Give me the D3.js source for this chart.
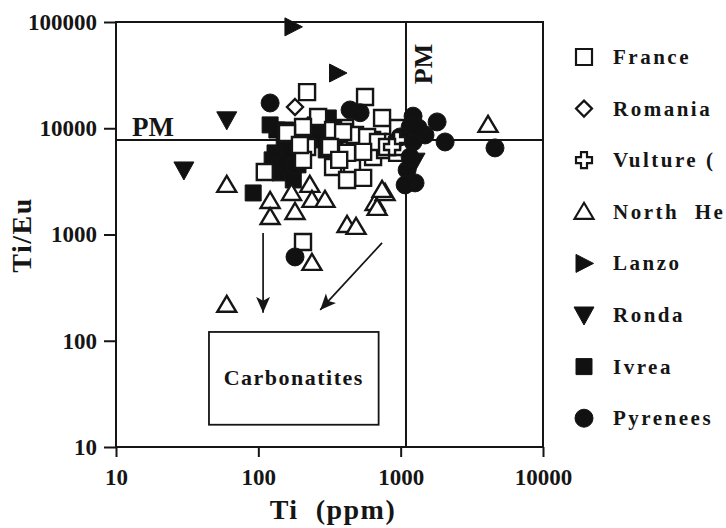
<!DOCTYPE html>
<html><head><meta charset="utf-8">
<script src="https://cdn.jsdelivr.net/npm/d3@7"></script>
<style>
body{margin:0;background:#fff}
svg{display:block}
text{font-family:"Liberation Serif","Times New Roman",serif;font-weight:bold;fill:#151515}
</style>
</head><body>
<svg id="c" width="726" height="528"></svg>
<script>
// ---- data (Ti ppm, Ti/Eu) ----
const xTicks = [10, 100, 1000, 10000];
const yTicks = [10, 100, 1000, 10000, 100000];
const pmTi = 1090, pmTiEu = 7750;

const france = [[220,21900],[562,19700],[740,12500],[263,12770],[206,10280],[159,9030],[407,10060],[478,8650],[630,7760],[220,6670],[206,5040],[335,4320],[455,4230],[545,3410],[640,5370],[777,6250],[111,3880],[196,6960],[335,9630],[394,9230],[581,8280],[693,7430],[885,7430],[944,5860],[545,5990],[420,5860],[319,6670],[802,6670],[991,6670],[420,3260],[206,851],[960,10060],[370,5040]];
const romania = [[181,15850]];
const vulture = [[944,7760],[870,6670]];
const northHess = [[60,2930],[60,218],[121,2070],[121,1460],[181,1630],[171,2460],[230,2930],[238,2120],[294,2120],[420,1230],[486,1180],[661,1980],[777,2460],[683,1780],[740,2630],[238,541],[4110,10750]];
const lanzo = [[175,90000],[360,33100]];
const ronda = [[60,12000],[30,4050],[270,7760],[1075,6250],[1262,4900]];
const ivrea = [[135,9630],[131,5860],[92,2460],[142,3800],[155,5040],[174,3880],[152,6960],[280,10750],[346,7760],[300,6250],[176,3260],[121,10750],[155,9630],[125,5040],[167,6250],[190,4520],[250,10750],[310,12500],[364,8650],[230,7760],[140,4400]];
const pyrenees = [[121,17300],[181,615],[441,14860],[519,14000],[1222,13000],[1803,11470],[2052,7430],[1483,8650],[1222,7430],[1110,4050],[1262,3060],[1165,10280],[991,8280],[1165,5370],[4600,6530],[1330,10060],[1075,2930]];

const legendNames = ["France","Romania","Vulture (","North  He","Lanzo","Ronda","Ivrea","Pyrenees"];
const carbBox = {x0:45, x1:700, y0:16.2, y1:121};
const arrows = [[[108,1035],[108,183]],[[740,834],[272,195]]];

// ---- drawing ----
const FONT = '"Liberation Serif","Times New Roman",serif';
const svg = d3.select("#c");
const x = d3.scaleLog().domain([10,10000]).range([116,543]);
const y = d3.scaleLog().domain([10,100000]).range([447,22]);

const shapes = {
  square: "M-8,-8H8V8H-8Z",
  diamond: "M0,-8L8,0L0,8L-8,0Z",
  cross: "M-3,-8H3V-3H8V3H3V8H-3V3H-8V-3H-3Z",
  triUp: "M0,-9L9.5,7L-9.5,7Z",
  triRight: "M-8,-9L9.5,0L-8,9Z",
  triDown: "M-10,-8L10,-8L0,10Z",
  circle: d3.symbol().type(d3.symbolCircle).size(Math.PI*81)()
};
const series = [
  {data: ivrea, shape:"square", fill:"#111"},
  {data: ronda, shape:"triDown", fill:"#111"},
  {data: france, shape:"square", fill:"#fff"},
  {data: pyrenees, shape:"circle", fill:"#111"},
  {data: northHess, shape:"triUp", fill:"#fff"},
  {data: romania, shape:"diamond", fill:"#fff"},
  {data: vulture, shape:"cross", fill:"#fff"},
  {data: lanzo, shape:"triRight", fill:"#111"}
];
const legendOrder = [
  {shape:"square", fill:"#fff"},{shape:"diamond", fill:"#fff"},{shape:"cross", fill:"#fff"},
  {shape:"triUp", fill:"#fff"},{shape:"triRight", fill:"#111"},{shape:"triDown", fill:"#111"},
  {shape:"square", fill:"#111"},{shape:"circle", fill:"#111"}
];

// frame
svg.append("rect").attr("x",x(10)).attr("y",y(100000))
  .attr("width",x(10000)-x(10)).attr("height",y(10)-y(100000))
  .attr("fill","none").attr("stroke","#151515").attr("stroke-width",2);

// axes
const yAxis = d3.axisLeft(y).tickValues(yTicks).tickFormat(d3.format("d")).tickSize(12).tickPadding(7);
const gy = svg.append("g").attr("transform",`translate(${x(10)},0)`).call(yAxis);
const xAxis = d3.axisBottom(x).tickValues(xTicks).tickFormat(d3.format("d")).tickSize(10).tickPadding(12);
const gx = svg.append("g").attr("transform",`translate(0,${y(10)})`).call(xAxis);
[gx,gy].forEach(g=>{
  g.attr("font-family",FONT);
  g.select(".domain").remove();
  g.selectAll(".tick line").attr("stroke","#151515").attr("stroke-width",2);
  g.selectAll(".tick text").attr("font-size",23).attr("fill","#151515")
    .attr("font-family",FONT).attr("font-weight","bold");
});

// PM lines
svg.append("line").attr("x1",x(10)).attr("x2",x(10000)).attr("y1",y(pmTiEu)).attr("y2",y(pmTiEu))
  .attr("stroke","#151515").attr("stroke-width",2);
svg.append("line").attr("x1",x(pmTi)).attr("x2",x(pmTi)).attr("y1",y(100000)).attr("y2",y(10))
  .attr("stroke","#151515").attr("stroke-width",2);
svg.append("text").attr("x",x(10)+16).attr("y",y(pmTiEu)-4).attr("font-size",27).attr("font-family",FONT).text("PM");
svg.append("text").attr("transform",`translate(${x(pmTi)+26},${64}) rotate(-90)`)
  .attr("text-anchor","middle").attr("font-size",26).attr("font-family",FONT).text("PM");

// carbonatites box
svg.append("rect").attr("x",x(carbBox.x0)).attr("y",y(carbBox.y1))
  .attr("width",x(carbBox.x1)-x(carbBox.x0)).attr("height",y(carbBox.y0)-y(carbBox.y1))
  .attr("fill","none").attr("stroke","#151515").attr("stroke-width",1.8);
svg.append("text").attr("x",(x(carbBox.x0)+x(carbBox.x1))/2).attr("y",(y(carbBox.y0)+y(carbBox.y1))/2+7)
  .attr("text-anchor","middle").attr("font-size",22).attr("letter-spacing",1.5)
  .attr("font-family",FONT).text("Carbonatites");

// arrows
svg.append("defs").append("marker").attr("id","ah").attr("markerUnits","userSpaceOnUse")
  .attr("markerWidth",20).attr("markerHeight",16).attr("refX",16).attr("refY",7)
  .attr("orient","auto").append("path").attr("d","M0,0L16,7L0,14L4,7Z").attr("fill","#151515");
svg.selectAll(".arr").data(arrows).join("line").attr("class","arr")
  .attr("x1",d=>x(d[0][0])).attr("y1",d=>y(d[0][1]))
  .attr("x2",d=>x(d[1][0])).attr("y2",d=>y(d[1][1]))
  .attr("stroke","#151515").attr("stroke-width",1.7).attr("marker-end","url(#ah)");

// points
series.forEach(s=>{
  svg.append("g").selectAll("path").data(s.data).join("path")
    .attr("transform",d=>`translate(${x(d[0])},${y(d[1])})`)
    .attr("d",shapes[s.shape]).attr("fill",s.fill)
    .attr("stroke","#151515").attr("stroke-width",s.fill==="#fff"?2.4:1);
});

// axis titles
svg.append("text").attr("transform","translate(31,235) rotate(-90)").attr("text-anchor","middle")
  .attr("font-size",28).attr("letter-spacing",1.5).attr("font-family",FONT).text("Ti/Eu");
svg.append("text").attr("x",333).attr("y",519).attr("text-anchor","middle")
  .attr("font-size",28).attr("letter-spacing",1.5).attr("font-family",FONT)
  .style("white-space","pre").text("Ti  (ppm)");

// legend
const lg = svg.append("g");
const rowY = i => 57 + i*51.6;
lg.selectAll("path").data(legendOrder).join("path")
  .attr("transform",(d,i)=>`translate(584,${rowY(i)})`)
  .attr("d",d=>shapes[d.shape]).attr("fill",d=>d.fill)
  .attr("stroke","#151515").attr("stroke-width",d=>d.fill==="#fff"?2.2:1);
lg.selectAll("text").data(legendNames).join("text")
  .attr("x",613).attr("y",(d,i)=>rowY(i)+7).attr("font-size",21).attr("letter-spacing",2.5)
  .attr("font-family",FONT).style("white-space","pre").text(d=>d);
</script>
</body></html>
